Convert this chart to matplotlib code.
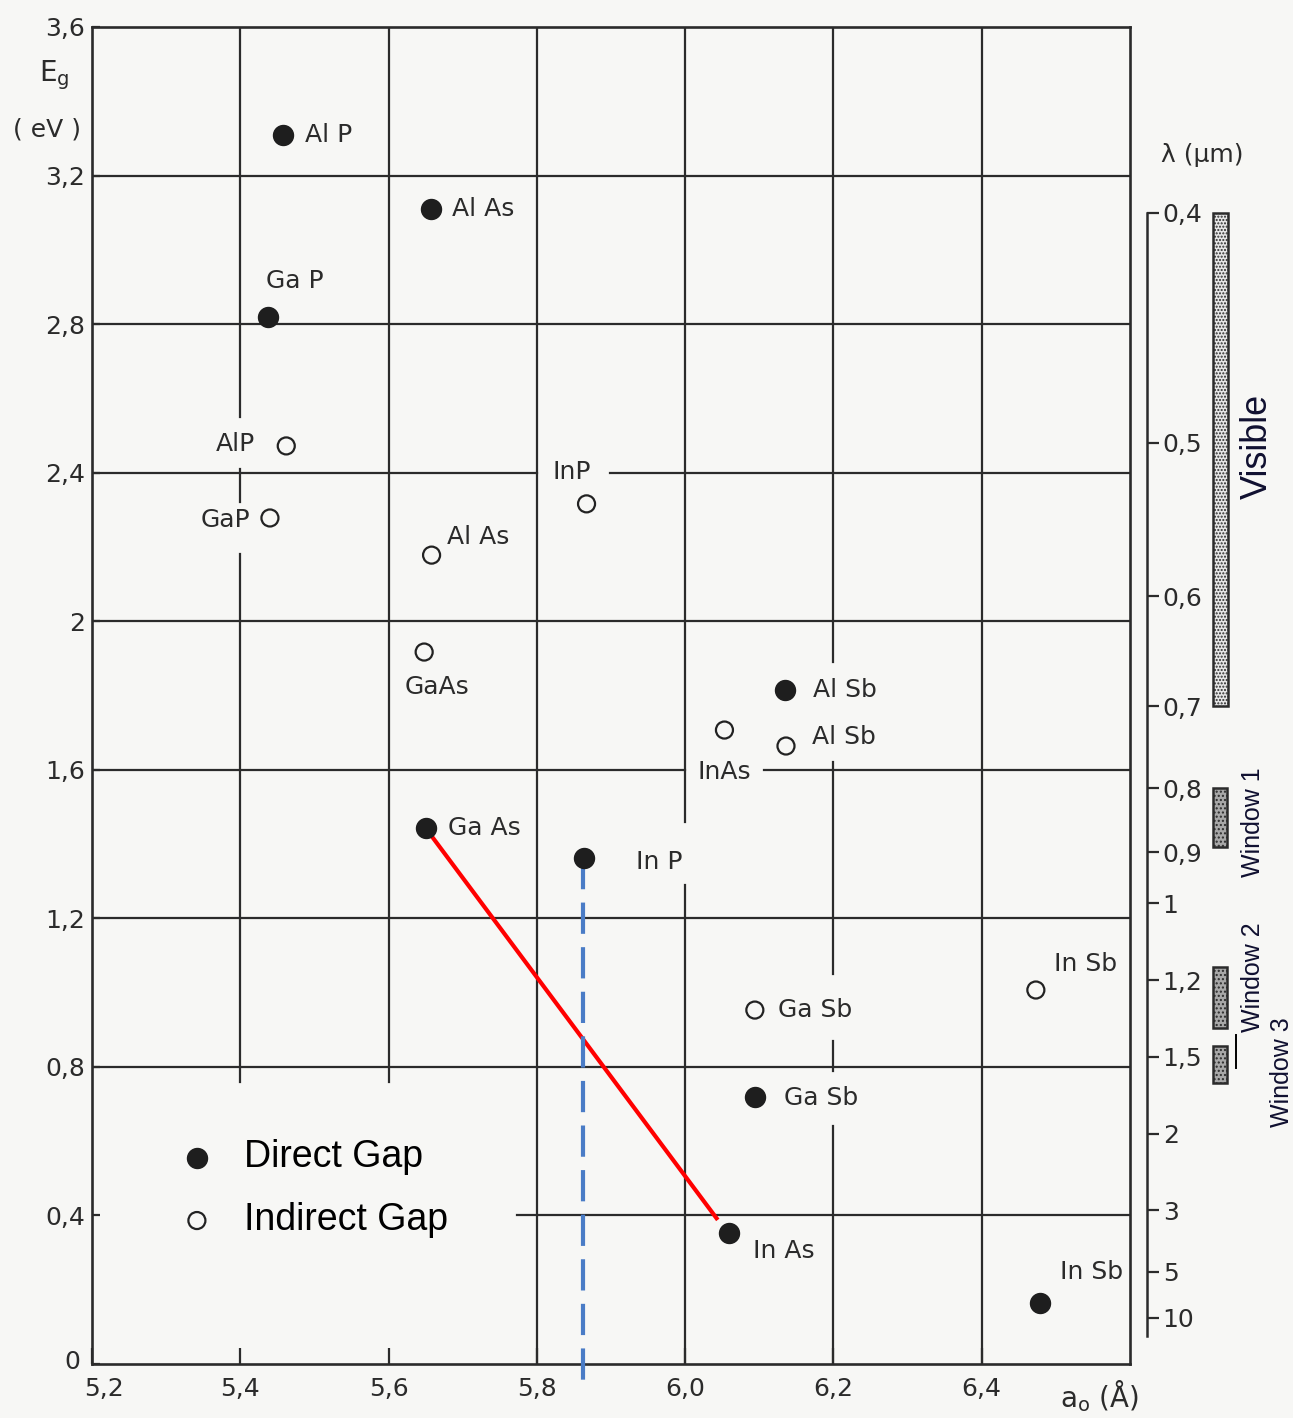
import matplotlib
matplotlib.use("Agg")
import matplotlib.pyplot as plt
from matplotlib.patches import Rectangle
from matplotlib.transforms import blended_transform_factory, ScaledTranslation

# lattice constant a0 (Angstrom) and band gap Eg (eV)
direct_names = ["Al P", "Al As", "Ga P", "Al Sb", "Ga As", "In P", "Ga Sb", "In As", "In Sb"]
direct_a0 = [5.457, 5.657, 5.437, 6.134, 5.650, 5.863, 6.094, 6.059, 6.478]
direct_eg = [3.31, 3.11, 2.82, 1.815, 1.443, 1.362, 0.72, 0.353, 0.164]

indirect_names = ["AlP", "GaP", "InP", "Al As", "GaAs", "InAs", "Al Sb", "Ga Sb", "In Sb"]
indirect_a0 = [5.462, 5.440, 5.867, 5.658, 5.648, 6.053, 6.136, 6.094, 6.473]
indirect_eg = [2.472, 2.278, 2.316, 2.178, 1.917, 1.707, 1.664, 0.953, 1.007]

# GaAs -> InAs alloy line and InP lattice-match line
alloy_a0 = [5.650, 6.044]
alloy_eg = [1.443, 0.388]
inp_a0 = 5.862
inp_eg = 1.362

# wavelength scale (um) and bands
lam_ticks = [0.4, 0.5, 0.6, 0.7, 0.8, 0.9, 1, 1.2, 1.5, 2, 3, 5, 10]
visible_band = (0.4, 0.7)
window_bands = [(0.80, 0.89), (1.16, 1.37), (1.45, 1.64)]
window_names = ["Window 1", "Window 2", "Window 3"]

x_ticks = [5.2, 5.4, 5.6, 5.8, 6.0, 6.2, 6.4]
y_ticks = [0, 0.4, 0.8, 1.2, 1.6, 2.0, 2.4, 2.8, 3.2, 3.6]

# label offsets in pixels (dx, dy screen-down) and alignment
direct_offsets = [(22, 0, "left"), (21, 0, "left"), (-2, -36, "left"), (28, 0, "left"),
                  (22, 0, "left"), (52, 4, "left"), (29, 1, "left"), (24, 18, "left"),
                  (20, -31, "left")]
indirect_offsets = [(-31, -2, "right"), (-20, 2, "right"), (-15, -32, "center"),
                    (15, -18, "left"), (13, 35, "center"), (0, 42, "center"),
                    (26, -9, "left"), (23, 0, "left"), (18, -26, "left")]

# grid pieces (the drawing has gaps where labels sit)
vgrid = [(5.4, 0.76, 2.18), (5.4, 2.32, 2.41), (5.4, 2.55, 3.6), (5.6, 0.76, 3.6),
         (5.8, 0, 3.6), (6.0, 0, 1.29), (6.0, 1.46, 3.6), (6.2, 0, 0.64),
         (6.2, 0.79, 0.87), (6.2, 1.05, 1.62), (6.2, 1.89, 3.6), (6.4, 0, 3.6)]
hgrid = [(0.4, 5.773, 6.6), (0.8, 5.2, 6.6), (1.2, 5.2, 6.6), (1.6, 5.2, 6.0),
         (1.6, 6.107, 6.6), (2.0, 5.2, 6.6), (2.4, 5.2, 5.8), (2.4, 5.898, 6.6),
         (2.8, 5.2, 6.6), (3.2, 5.2, 6.6)]

ink = "#2b2b2b"
bg = "#f7f7f5"
plt.rcParams["font.family"] = "DejaVu Sans"

fig = plt.figure(figsize=(12.93, 14.18), dpi=100, facecolor=bg)
ax = fig.add_axes([0.07115, 0.03808, 0.8028, 0.94288])
ax.set_facecolor(bg)
ax.set_xlim(5.2, 6.6)
ax.set_ylim(0, 3.6)

for x, y0, y1 in vgrid:
    ax.plot([x, x], [y0, y1], color=ink, lw=1.6, zorder=1)
for y, x0, x1 in hgrid:
    ax.plot([x0, x1], [y, y], color=ink, lw=1.6, zorder=1)

for s in ax.spines.values():
    s.set_color(ink)
    s.set_linewidth(1.9)

ax.set_xticks(x_ticks)
ax.set_xticklabels([f"{v:.1f}".replace(".", ",") for v in x_ticks])
ax.set_yticks(y_ticks)
ax.set_yticklabels([f"{v:g}".replace(".", ",") for v in y_ticks])
ax.tick_params(axis="x", direction="in", length=11.5, width=1.6, color=ink,
               labelsize=18, labelcolor=ink, pad=9)
ax.tick_params(axis="y", direction="in", length=6, width=1.6, color=ink,
               labelsize=18, labelcolor=ink, pad=5)
# the hand-lettered "5,2" and "0" sit a little apart from each other
first_x = ax.get_xticklabels()[0]
first_x.set_transform(first_x.get_transform() + ScaledTranslation(0.12, 0, fig.dpi_scale_trans))
first_y = ax.get_yticklabels()[0]
first_y.set_transform(first_y.get_transform() + ScaledTranslation(-0.05, 0.05, fig.dpi_scale_trans))

# data points
ax.scatter(direct_a0, direct_eg, s=207, color="#1e1e1e", zorder=4, label="Direct Gap")
ax.scatter(indirect_a0, indirect_eg, s=150, facecolor="none", edgecolor="#222222",
           linewidths=1.6, zorder=4, label="Indirect Gap")

for name, x, y, (dx, dy, ha) in zip(direct_names, direct_a0, direct_eg, direct_offsets):
    ax.annotate(name, (x, y), xytext=(dx * 0.72, -dy * 0.72), textcoords="offset points",
                ha=ha, va="center", fontsize=18, color=ink)
for name, x, y, (dx, dy, ha) in zip(indirect_names, indirect_a0, indirect_eg, indirect_offsets):
    ax.annotate(name, (x, y), xytext=(dx * 0.72, -dy * 0.72), textcoords="offset points",
                ha=ha, va="center", fontsize=18, color=ink)

# alloy line and lattice-matched line
ax.plot(alloy_a0, alloy_eg, color="#ff0000", lw=3, zorder=3, solid_capstyle="butt")
ax.plot([inp_a0, inp_a0], [inp_eg, -0.045], color="#4a7cc6", lw=3,
        linestyle=(0, (7.5, 3.2)), zorder=3, clip_on=False)

# axis labels
ax.text(-0.036, 0.964, r"E$_\mathrm{g}$", transform=ax.transAxes, ha="center", va="center",
        fontsize=20, color=ink)
ax.text(-0.043, 0.923, "( eV )", transform=ax.transAxes, ha="center", va="center",
        fontsize=18, color=ink)
ax.text(0.971, -0.024, r"a$_\mathrm{o}$ (Å)", transform=ax.transAxes, ha="center",
        va="center", fontsize=20, color=ink)

leg = ax.legend(loc="upper left", bbox_to_anchor=(0.083, 0.168), frameon=False,
                prop={"family": "Liberation Sans", "size": 27}, handlelength=1.0,
                handletextpad=0.75, labelspacing=0.72, borderpad=0, borderaxespad=0,
                scatterpoints=1)

# wavelength scale on the right
ax2 = ax.twinx()
ax2.set_ylim(0, 3.6)
for side in ["top", "left", "bottom"]:
    ax2.spines[side].set_visible(False)
ax2.spines["right"].set_position(("outward", 12))
ax2.spines["right"].set_bounds(0.075, 1.24 / lam_ticks[0])
ax2.spines["right"].set_color(ink)
ax2.spines["right"].set_linewidth(1.8)
ax2.set_yticks([1.24 / l for l in lam_ticks])
ax2.set_yticklabels([f"{l:g}".replace(".", ",") for l in lam_ticks])
ax2.tick_params(axis="y", direction="out", length=8.5, width=1.6, color=ink,
                labelsize=18, labelcolor=ink, pad=3)
ax2.text(1.070, 0.904, "λ (μm)", transform=ax2.transAxes, ha="center", va="center",
         fontsize=18, color=ink)

trans = blended_transform_factory(ax2.transAxes, ax2.transData)
lo, hi = 1.24 / visible_band[1], 1.24 / visible_band[0]
ax2.add_patch(Rectangle((1.080, lo), 0.0145, hi - lo, transform=trans, clip_on=False,
                        facecolor="#e6e6e6", edgecolor=ink, lw=1.8, hatch="....."))
for (l0, l1) in window_bands:
    lo, hi = 1.24 / l1, 1.24 / l0
    ax2.add_patch(Rectangle((1.080, lo), 0.0135, hi - lo, transform=trans, clip_on=False,
                            facecolor="#a8a8a8", edgecolor=ink, lw=1.8, hatch="...."))
ax2.plot([1.102, 1.102], [0.797, 0.886], transform=trans, color="black", lw=1.4,
         clip_on=False)

ax2.text(1.123, 2.47, "Visible", transform=trans, rotation=90, ha="center", va="center",
         fontsize=26, family="Liberation Sans", color="#101030")
win_pos = [(1.118, 1.459), (1.118, 1.042), (1.146, 0.786)]
for name, (tx, ty) in zip(window_names, win_pos):
    ax2.text(tx, ty, name, transform=trans, rotation=90, ha="center", va="center",
             fontsize=18, family="Liberation Sans", color="#101030")

fig.savefig("out.png", dpi=100, facecolor=bg)
